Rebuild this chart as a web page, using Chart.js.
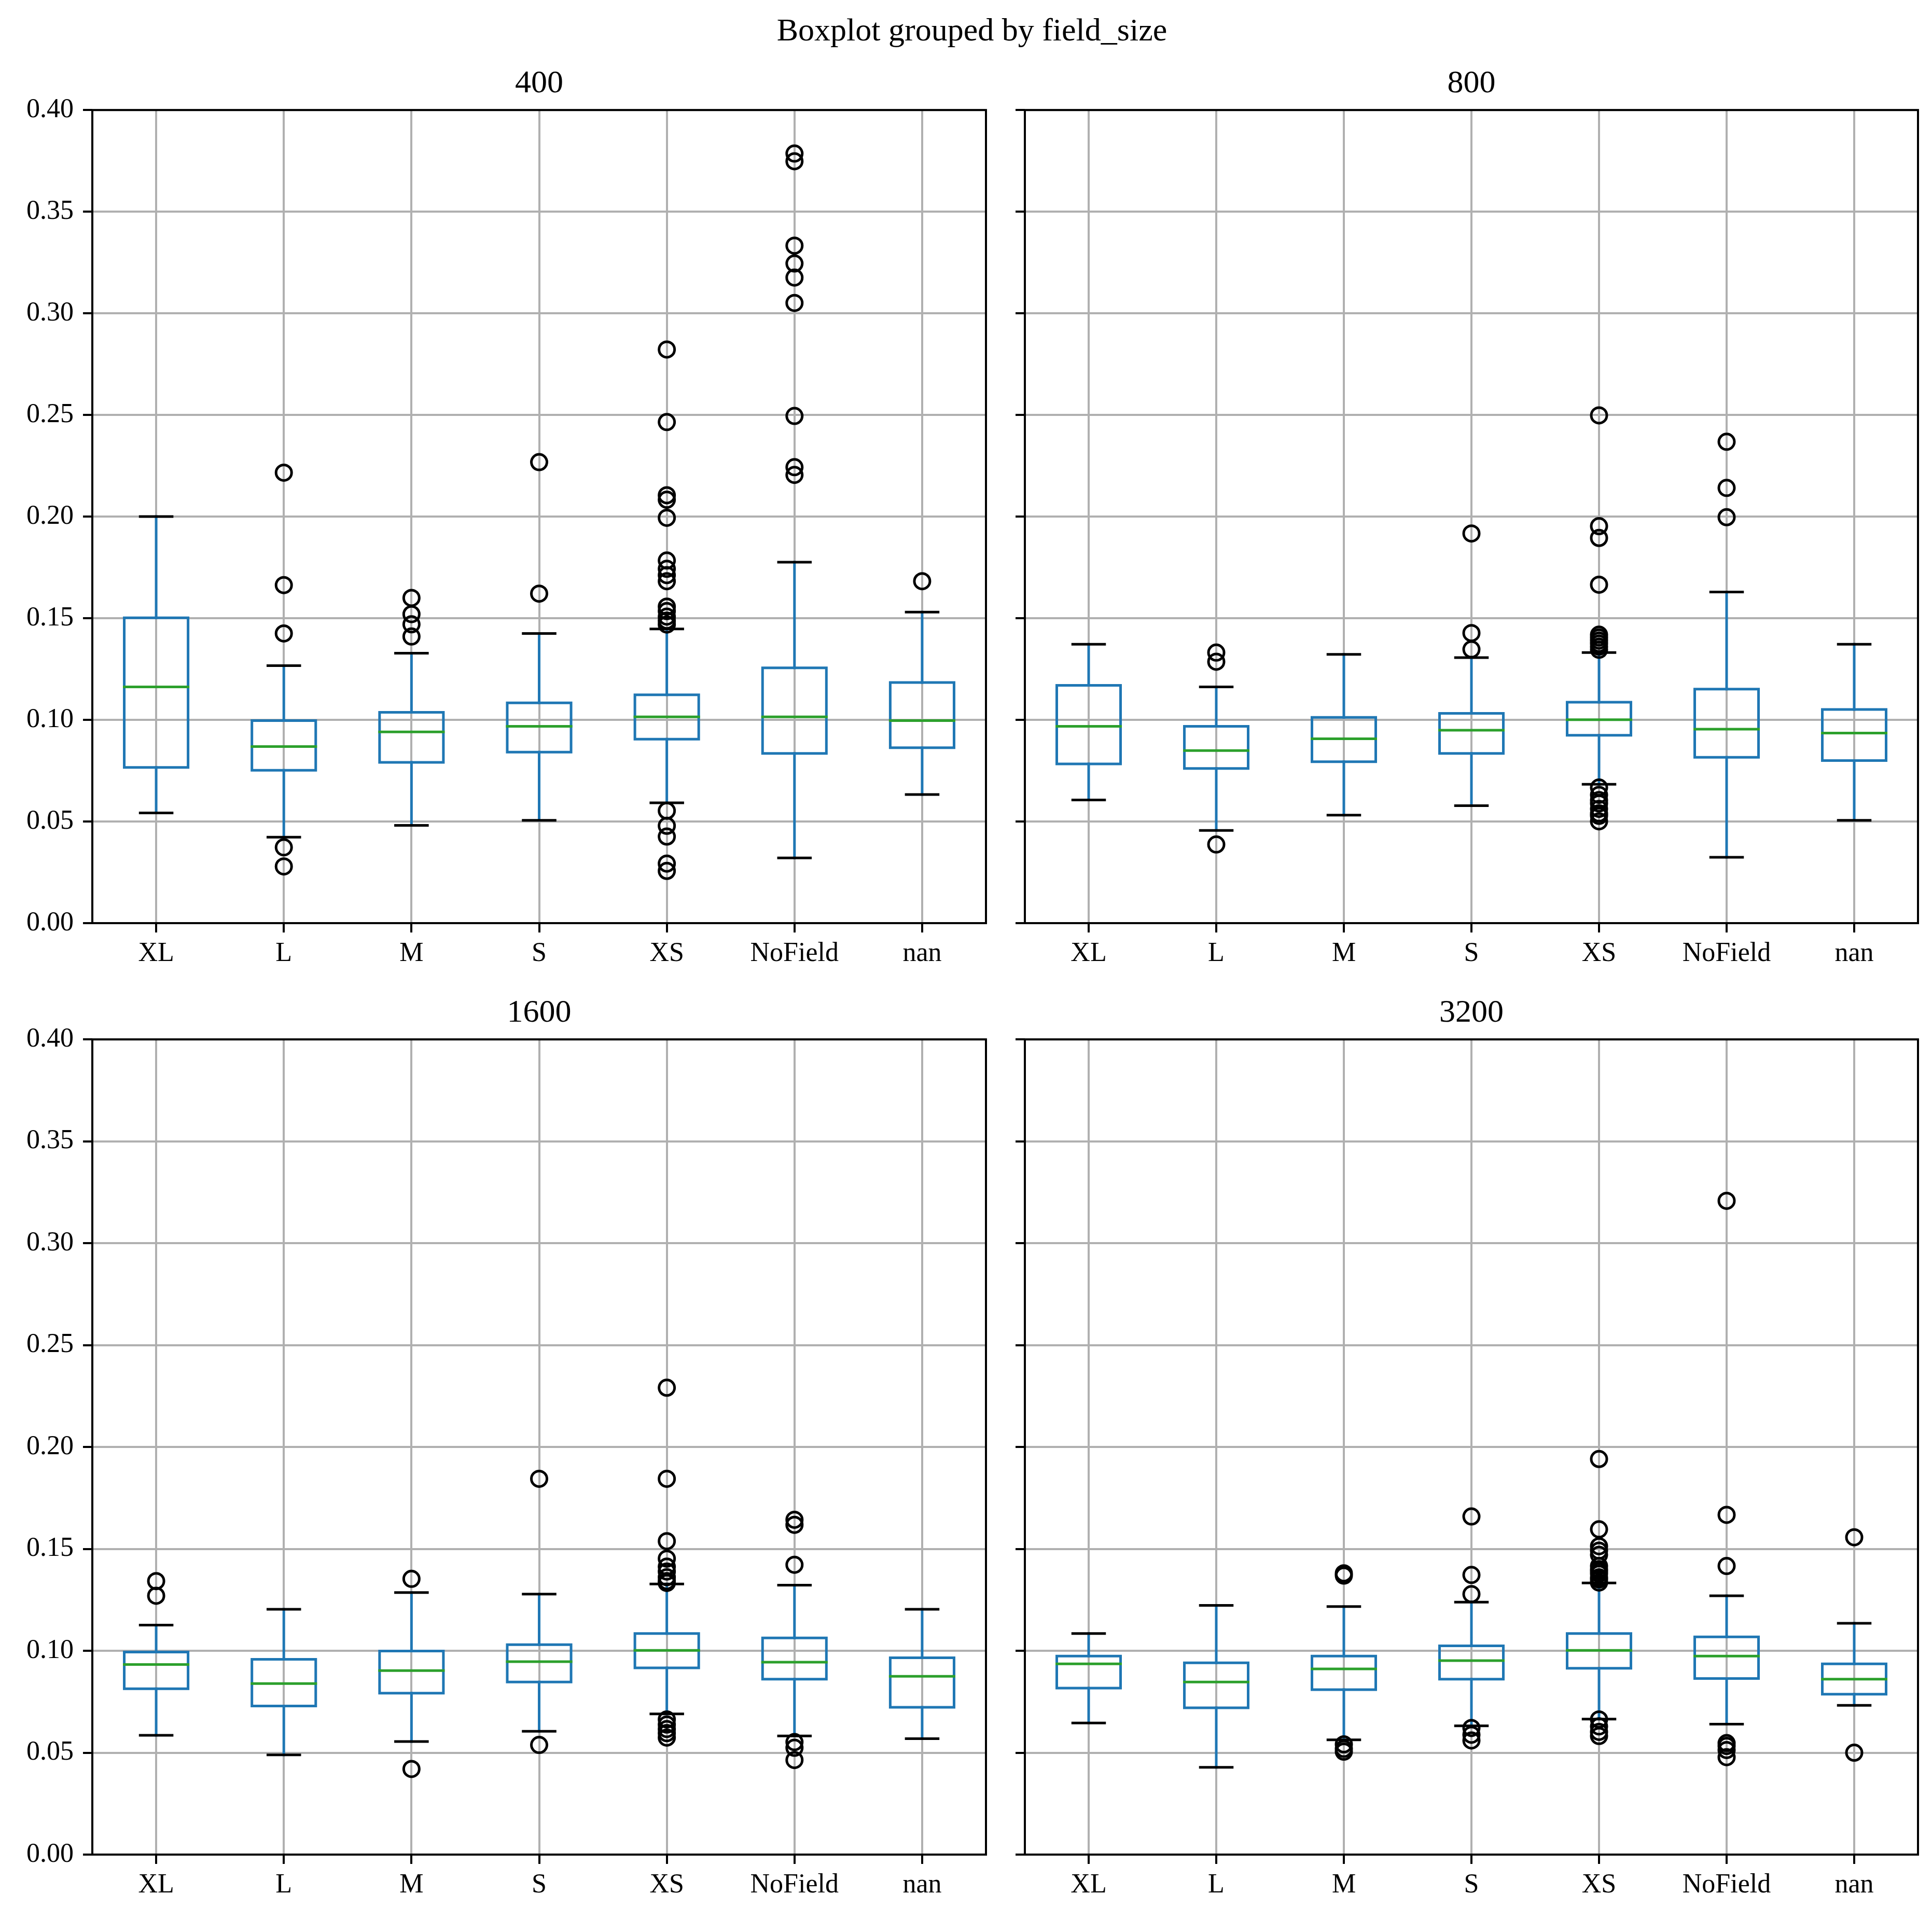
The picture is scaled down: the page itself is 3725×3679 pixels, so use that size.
<!DOCTYPE html>
<html>
<head>
<meta charset="utf-8">
<script src="https://cdn.jsdelivr.net/npm/chart.js@4.4.1/dist/chart.umd.min.js"></script>
<style>
html,body{margin:0;padding:0;background:#fff;}
body{width:3725px;height:3679px;position:relative;overflow:hidden;font-family:'Liberation Serif','Times New Roman',serif;}
.t{position:absolute;font-size:62px;line-height:62px;white-space:nowrap;text-align:center;color:#000;width:1200px;}
canvas{position:absolute;}
</style>
</head>
<body>
<script>
// ---------------- DATA ----------------
const categories = ['XL', 'L', 'M', 'S', 'XS', 'NoField', 'nan'];
const panelTitles = ['400', '800', '1600', '3200'];
const yTicks = [0.00, 0.05, 0.10, 0.15, 0.20, 0.25, 0.30, 0.35, 0.40];
const suptitle = 'Boxplot grouped by field_size';

// field_size 400
const lo400  = [0.0542, 0.0423, 0.0481, 0.0506, 0.0592, 0.0321, 0.0633];
const q1_400 = [0.0766, 0.0752, 0.0791, 0.0841, 0.0905, 0.0835, 0.0863];
const med400 = [0.1162, 0.0869, 0.0941, 0.0968, 0.1015, 0.1015, 0.0996];
const q3_400 = [0.1502, 0.0996, 0.1037, 0.1084, 0.1123, 0.1256, 0.1184];
const hi400  = [0.2000, 0.1267, 0.1328, 0.1425, 0.1447, 0.1776, 0.1530];
const out400 = [
  [],
  [0.2216, 0.1663, 0.1425, 0.0373, 0.0279],
  [0.1600, 0.1520, 0.1470, 0.1410],
  [0.2268, 0.1621],
  [0.2822, 0.2465, 0.2105, 0.2083, 0.1994, 0.1784, 0.1743, 0.1712, 0.1682, 0.1557, 0.1535, 0.1508, 0.1488, 0.1469, 0.0553, 0.0479, 0.0426, 0.0293, 0.0257],
  [0.3786, 0.3748, 0.3333, 0.3245, 0.3176, 0.3051, 0.2495, 0.2243, 0.2205],
  [0.1682]
];

// field_size 800
const lo800  = [0.0606, 0.0456, 0.0531, 0.0578, 0.0683, 0.0324, 0.0506];
const q1_800 = [0.0783, 0.0761, 0.0794, 0.0835, 0.0924, 0.0816, 0.0800];
const med800 = [0.0968, 0.0849, 0.0907, 0.0949, 0.1001, 0.0954, 0.0935];
const q3_800 = [0.1170, 0.0968, 0.1012, 0.1032, 0.1087, 0.1151, 0.1051];
const hi800  = [0.1372, 0.1162, 0.1322, 0.1306, 0.1331, 0.1629, 0.1372];
const out800 = [
  [],
  [0.1331, 0.1286, 0.0387],
  [],
  [0.1917, 0.1427, 0.1347],
  [0.2498, 0.1953, 0.1895, 0.1665, 0.1419, 0.1405, 0.1390, 0.1375, 0.1360, 0.1345, 0.0667, 0.0631, 0.0605, 0.0589, 0.0562, 0.0540, 0.0528, 0.0501],
  [0.2368, 0.2141, 0.1997],
  []
];

// field_size 1600
const lo1600  = [0.0585, 0.0489, 0.0555, 0.0605, 0.0690, 0.0582, 0.0569];
const q1_1600 = [0.0814, 0.0729, 0.0792, 0.0847, 0.0916, 0.0861, 0.0723];
const med1600 = [0.0933, 0.0839, 0.0903, 0.0947, 0.1002, 0.0944, 0.0875];
const q3_1600 = [0.0994, 0.0958, 0.0999, 0.1030, 0.1085, 0.1063, 0.0966];
const hi1600  = [0.1126, 0.1204, 0.1286, 0.1278, 0.1328, 0.1322, 0.1204];
const out1600 = [
  [0.1342, 0.1270],
  [],
  [0.1353, 0.0420],
  [0.1844, 0.0538],
  [0.2291, 0.1844, 0.1538, 0.1452, 0.1413, 0.1389, 0.1361, 0.1342, 0.1333, 0.0663, 0.0638, 0.0616, 0.0596, 0.0574],
  [0.1643, 0.1618, 0.1422, 0.0552, 0.0524, 0.0464],
  []
];

// field_size 3200
const lo3200  = [0.0646, 0.0428, 0.0563, 0.0632, 0.0665, 0.0640, 0.0732];
const q1_3200 = [0.0817, 0.0720, 0.0809, 0.0861, 0.0914, 0.0864, 0.0787];
const med3200 = [0.0936, 0.0847, 0.0911, 0.0952, 0.1002, 0.0974, 0.0861];
const q3_3200 = [0.0974, 0.0941, 0.0974, 0.1024, 0.1085, 0.1068, 0.0936];
const hi3200  = [0.1085, 0.1223, 0.1217, 0.1239, 0.1333, 0.1270, 0.1135];
const out3200 = [
  [],
  [],
  [0.1380, 0.1369, 0.0541, 0.0519, 0.0505],
  [0.1659, 0.1372, 0.1278, 0.0621, 0.0588, 0.0560],
  [0.1941, 0.1596, 0.1513, 0.1491, 0.1471, 0.1416, 0.1400, 0.1390, 0.1378, 0.1360, 0.1350, 0.1335, 0.0663, 0.0629, 0.0602, 0.0582],
  [0.3208, 0.1667, 0.1416, 0.0547, 0.0533, 0.0513, 0.0478],
  [0.1557, 0.0500]
];

// ---------------- LAYOUT / STYLE ----------------
const FONT = "'Liberation Serif', 'Times New Roman', serif";
const BLUE = '#1f77b4', GREEN = '#2ca02c', BLACK = '#000000', GRID = '#b0b0b0';
const BOX_HALF = 0.25, CAP_HALF = 0.125;
const Y_AXIS_W = 178, X_AXIS_H = 140, PAD_TOP = 40, PAD_RIGHT = 30;

const panels = [
  { title: panelTitles[0], lo: lo400,  q1: q1_400,  med: med400,  q3: q3_400,  hi: hi400,  out: out400,  L: 178,  R: 1901, T: 212,  B: 1780, yLabels: true  },
  { title: panelTitles[1], lo: lo800,  q1: q1_800,  med: med800,  q3: q3_800,  hi: hi800,  out: out800,  L: 1976, R: 3698, T: 212,  B: 1780, yLabels: false },
  { title: panelTitles[2], lo: lo1600, q1: q1_1600, med: med1600, q3: q3_1600, hi: hi1600, out: out1600, L: 178,  R: 1901, T: 2004, B: 3576, yLabels: true  },
  { title: panelTitles[3], lo: lo3200, q1: q1_3200, med: med3200, q3: q3_3200, hi: hi3200, out: out3200, L: 1976, R: 3698, T: 2004, B: 3576, yLabels: false }
];

function addText(text, cx, top) {
  const d = document.createElement('div');
  d.className = 't';
  d.textContent = text;
  d.style.left = (cx - 600) + 'px';
  d.style.top = top + 'px';
  document.body.appendChild(d);
}

const framePlugin = {
  id: 'frame',
  afterDraw(chart) {
    const { ctx, chartArea: a } = chart;
    ctx.save();
    ctx.strokeStyle = BLACK;
    ctx.lineWidth = 4;
    ctx.strokeRect(a.left, a.top, a.right - a.left, a.bottom - a.top);
    ctx.restore();
  }
};

function buildPanel(p) {
  const boxData = [], whiskerData = [], capData = [], medData = [], outData = [];
  categories.forEach((c, i) => {
    const x = i + 1;
    boxData.push({ x: x - BOX_HALF, y: p.q1[i] }, { x: x + BOX_HALF, y: p.q1[i] },
                 { x: x + BOX_HALF, y: p.q3[i] }, { x: x - BOX_HALF, y: p.q3[i] },
                 { x: x - BOX_HALF, y: p.q1[i] }, { x: x, y: null });
    whiskerData.push({ x: x, y: p.q1[i] }, { x: x, y: p.lo[i] }, { x: x, y: null },
                     { x: x, y: p.q3[i] }, { x: x, y: p.hi[i] }, { x: x, y: null });
    capData.push({ x: x - CAP_HALF, y: p.lo[i] }, { x: x + CAP_HALF, y: p.lo[i] }, { x: x, y: null },
                 { x: x - CAP_HALF, y: p.hi[i] }, { x: x + CAP_HALF, y: p.hi[i] }, { x: x, y: null });
    medData.push({ x: x - BOX_HALF, y: p.med[i] }, { x: x + BOX_HALF, y: p.med[i] }, { x: x, y: null });
    p.out[i].forEach(v => outData.push({ x: x, y: v }));
  });

  let W = (p.R - p.L) + Y_AXIS_W + PAD_RIGHT;
  let H = (p.B - p.T) + PAD_TOP + X_AXIS_H;
  const cv = document.createElement('canvas');
  cv.width = W; cv.height = H;
  cv.style.width = W + 'px'; cv.style.height = H + 'px';
  cv.style.left = (p.L - Y_AXIS_W) + 'px';
  cv.style.top = (p.T - PAD_TOP) + 'px';
  document.body.appendChild(cv);

  const lineDs = (data, color, order) => ({
    type: 'line', data, borderColor: color, backgroundColor: color, borderWidth: 5,
    pointRadius: 0, pointHoverRadius: 0, showLine: true, spanGaps: false, tension: 0,
    borderJoinStyle: 'miter', borderCapStyle: 'square', fill: false, order
  });

  const gridOpts = { color: GRID, lineWidth: 4, tickColor: BLACK, tickLength: 18, tickWidth: 4 };

  const chart = new Chart(cv, {
    type: 'scatter',
    data: {
      datasets: [
        lineDs(medData, GREEN, 1),
        lineDs(capData, BLACK, 2),
        lineDs(boxData, BLUE, 3),
        lineDs(whiskerData, BLUE, 4),
        {
          type: 'scatter', data: outData, showLine: false, order: 0,
          pointStyle: 'circle', pointRadius: 15, pointHoverRadius: 15,
          pointBorderWidth: 5, pointBorderColor: BLACK, pointBackgroundColor: 'rgba(0,0,0,0)'
        }
      ]
    },
    options: {
      responsive: false,
      maintainAspectRatio: false,
      animation: false,
      devicePixelRatio: 1,
      layout: { padding: { left: 0, top: PAD_TOP, right: PAD_RIGHT, bottom: 0 } },
      plugins: { legend: { display: false }, tooltip: { enabled: false }, title: { display: false } },
      events: [],
      scales: {
        x: {
          type: 'linear', min: 0.5, max: 7.5,
          afterBuildTicks: s => { s.ticks = categories.map((c, i) => ({ value: i + 1 })); },
          afterFit: s => { s.height = X_AXIS_H; },
          ticks: {
            callback: v => categories[Math.round(v) - 1],
            font: { family: FONT, size: 52 }, color: BLACK, padding: 10,
            maxRotation: 0, minRotation: 0, autoSkip: false
          },
          grid: gridOpts,
          border: { display: false }
        },
        y: {
          type: 'linear', min: 0, max: 0.4,
          afterBuildTicks: s => { s.ticks = yTicks.map(v => ({ value: v })); },
          afterFit: s => { s.width = Y_AXIS_W; },
          ticks: {
            callback: v => p.yLabels ? Number(v).toFixed(2) : '',
            font: { family: FONT, size: 52 }, color: BLACK, padding: 18
          },
          grid: gridOpts,
          border: { display: false }
        }
      }
    },
    plugins: [framePlugin]
  });

  // align the chart area exactly with the target plot rectangle
  for (let k = 0; k < 3; k++) {
    const ca = chart.chartArea;
    const dw = Math.round((p.R - p.L) - (ca.right - ca.left));
    const dh = Math.round((p.B - p.T) - (ca.bottom - ca.top));
    if (dw === 0 && dh === 0) break;
    W += dw; H += dh;
    chart.resize(W, H);
  }
  const ca = chart.chartArea;
  cv.style.left = (p.L - ca.left) + 'px';
  cv.style.top = (p.T - ca.top) + 'px';

  addText(p.title, (p.L + p.R) / 2, p.T - 30 - 56);
}

function buildAll() {
  addText(suptitle, 1874, 26);
  panels.forEach(buildPanel);
}

if (document.fonts && document.fonts.load) {
  document.fonts.load("52px 'Liberation Serif'").then(buildAll, buildAll);
} else {
  buildAll();
}
</script>
</body>
</html>
